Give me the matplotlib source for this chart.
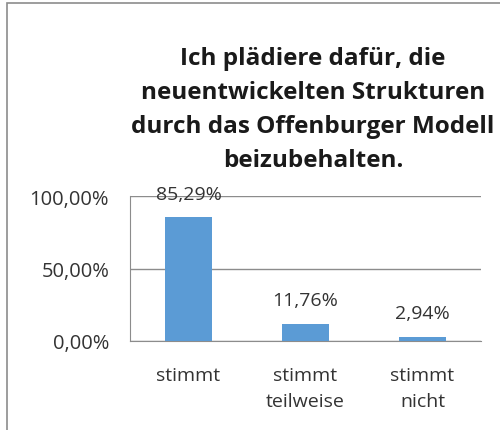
import numpy as np
import matplotlib.pyplot as plt
import matplotlib.patches as mpatches
from matplotlib.ticker import FuncFormatter

plt.rcParams['font.family'] = ['Open Sans', 'DejaVu Sans']

categories = ['stimmt', 'stimmt\nteilweise', 'stimmt\nnicht']
values = [0.8529, 0.1176, 0.0294]
title = 'Ich plädiere dafür, die\nneuentwickelten Strukturen\ndurch das Offenburger Modell\nbeizubehalten.'

def pct(v, pos=None):
	return ('%.2f%%' % (v * 100)).replace('.', ',')

fig = plt.figure(figsize=(5, 4.31), dpi=100)
# chart frame (cut off at right/bottom like the original)
fig.patches.append(mpatches.Rectangle((7 / 500, -0.05), 1.2, 1 - 4 / 431 + 0.05,
	transform=fig.transFigure, fill=False, edgecolor='#8c8c8c', linewidth=1.2))

ax = fig.add_axes([0.26, 0.2065, 0.702, 0.3364])
idx = np.arange(len(values))
bars = ax.bar(idx, values, 0.4, color='#5B9BD5', zorder=3)
ax.set_xlim(-0.5, 2.5)
ax.set_ylim(0, 1)
ax.set_yticks([0, 0.5, 1])
ax.yaxis.set_major_formatter(FuncFormatter(pct))
ax.set_xticks(idx)
ax.set_xticklabels(categories, fontsize=14, color='#333333', linespacing=1.6)
ax.tick_params(axis='y', labelsize=14.5, labelcolor='#333333', length=0, pad=15)
ax.tick_params(axis='x', length=0, pad=18)
ax.grid(axis='y', color='#8c8c8c', linewidth=1, zorder=0)
for s in ['top', 'right']:
	ax.spines[s].set_visible(False)
ax.spines['left'].set_color('#8c8c8c')
ax.spines['bottom'].set_color('#8c8c8c')

for i, v in enumerate(values):
	ax.annotate(pct(v), (i, v), xytext=(0, 17), textcoords='offset points',
		ha='center', va='center', fontsize=14, color='#333333', annotation_clip=False)

fig.text(0.626, 1 - 110 / 431, title, ha='center', va='center', fontsize=17.5,
	fontweight='bold', linespacing=1.55, color='#1a1a1a')

fig.savefig('out.png', dpi=100)
